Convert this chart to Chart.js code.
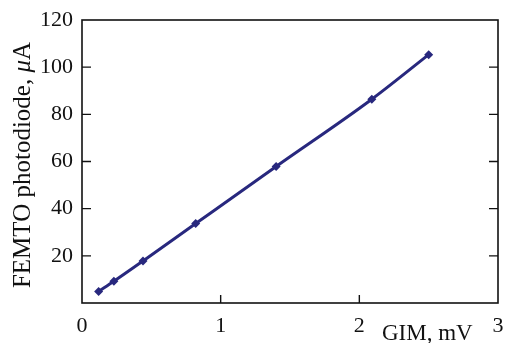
<!DOCTYPE html>
<html>
<head>
<meta charset="utf-8">
<script src="https://cdn.jsdelivr.net/npm/chart.js@4"></script>
<style>
  html, body { margin: 0; padding: 0; background: #fff; }
  #wrap { width: 505px; height: 343px; }
</style>
</head>
<body>
<div id="wrap"><canvas id="gimChart" width="505" height="343"></canvas></div>
<script>
// values
const gimValues = [0.12, 0.23, 0.44, 0.82, 1.40, 2.09, 2.50];
const femtoValues = [4.9, 9.2, 17.8, 33.7, 57.9, 86.4, 105.3];
const xTicks = [0, 1, 2, 3];
const yTicks = [20, 40, 60, 80, 100, 120];

const lineColor = '#28287e';
const serif = "'Liberation Serif', 'Times New Roman', Tinos, serif";

// frame, inward ticks and axis texts
const framePlugin = {
    id: 'frame',
    afterDraw(chart) {
        const c = chart.ctx;
        const a = chart.chartArea;
        const xs = chart.scales.x;
        const ys = chart.scales.y;
        c.save();
        c.strokeStyle = '#111';
        c.lineWidth = 1.6;
        c.strokeRect(a.left, a.top, a.right - a.left, a.bottom - a.top);
        c.lineWidth = 1.4;
        c.beginPath();
        yTicks.forEach(v => {
            if (v >= 120) return;
            const py = ys.getPixelForValue(v);
            c.moveTo(a.left, py); c.lineTo(a.left + 9, py);
            c.moveTo(a.right, py); c.lineTo(a.right - 9, py);
        });
        xTicks.forEach(v => {
            if (v === 0 || v === 3) return;
            const px = xs.getPixelForValue(v);
            c.moveTo(px, a.bottom); c.lineTo(px, a.bottom - 8);
        });
        c.stroke();

        c.fillStyle = '#111';
        c.textBaseline = 'middle';
        // x axis name
        c.font = '23px ' + serif;
        c.textAlign = 'left';
        c.fillText('GIM, mV', 382, 334);

        // y axis name, rotated, with italic mu
        c.translate(23, 165);
        c.rotate(-Math.PI / 2);
        const part1 = 'FEMTO photodiode, ';
        const mu = 'μ';
        const part2 = 'A';
        c.font = '25px ' + serif;
        const w1 = c.measureText(part1).width;
        const w3 = c.measureText(part2).width;
        c.font = 'italic 25px ' + serif;
        const w2 = c.measureText(mu).width;
        let x0 = -(w1 + w2 + w3) / 2;
        c.textAlign = 'left';
        c.font = '25px ' + serif;
        c.fillText(part1, x0, 0);
        c.font = 'italic 25px ' + serif;
        c.fillText(mu, x0 + w1, 0);
        c.font = '25px ' + serif;
        c.fillText(part2, x0 + w1 + w2, 0);
        c.restore();
    }
};

const ctx = document.getElementById('gimChart').getContext('2d');
const gimChart = new Chart(ctx, {
    type: 'line',
    data: {
        datasets: [{
            data: gimValues.map((g, i) => ({ x: g, y: femtoValues[i] })),
            borderColor: lineColor,
            backgroundColor: lineColor,
            borderWidth: 3,
            pointStyle: 'rectRot',
            pointRadius: 4.5,
            pointBorderWidth: 0,
            cubicInterpolationMode: 'monotone'
        }]
    },
    options: {
        responsive: false,
        animation: false,
        layout: { padding: { top: 20, right: 7, left: 0, bottom: 0 } },
        plugins: {
            legend: { display: false },
            tooltip: { enabled: false }
        },
        scales: {
            x: {
                type: 'linear',
                min: 0,
                max: 3,
                afterFit(scale) {
                    scale.height = 40;
                    scale.paddingLeft = 0;
                    scale.paddingRight = 0;
                },
                afterBuildTicks(scale) { scale.ticks = xTicks.map(v => ({ value: v })); },
                grid: { display: false, drawTicks: false },
                border: { display: false },
                ticks: {
                    padding: 10,
                    color: '#111',
                    font: { family: serif, size: 22 },
                    maxRotation: 0
                }
            },
            y: {
                type: 'linear',
                min: 0,
                max: 120,
                afterFit(scale) {
                    scale.width = 82;
                    scale.paddingTop = 0;
                    scale.paddingBottom = 0;
                },
                afterBuildTicks(scale) { scale.ticks = yTicks.map(v => ({ value: v })); },
                grid: { display: false, drawTicks: false },
                border: { display: false },
                ticks: {
                    padding: 9,
                    color: '#111',
                    font: { family: serif, size: 22 }
                }
            }
        }
    },
    plugins: [framePlugin]
});
</script>
</body>
</html>
